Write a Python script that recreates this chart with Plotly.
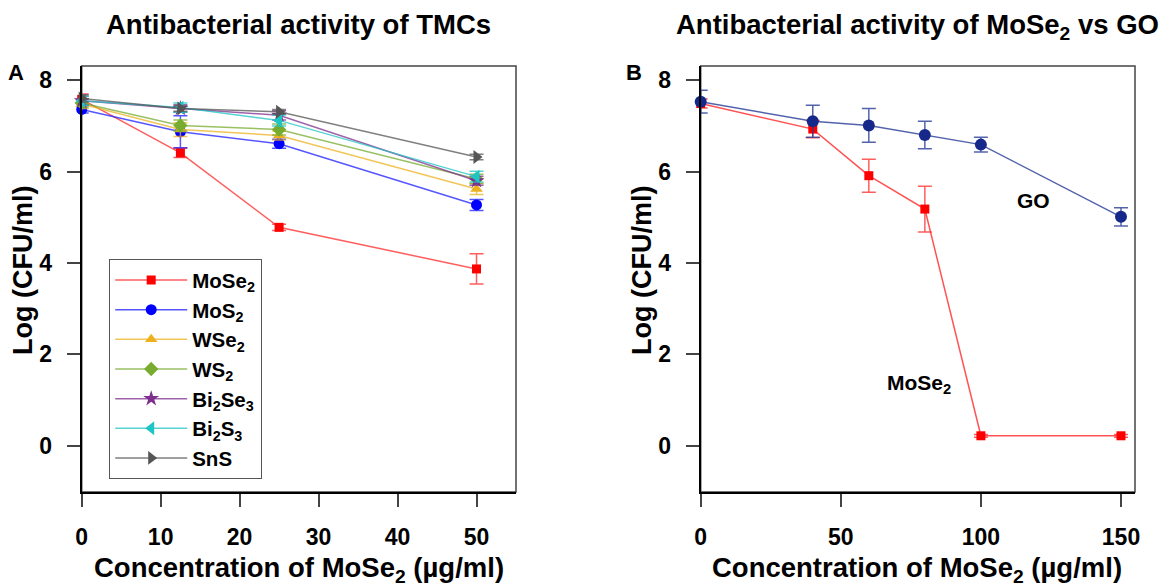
import plotly.graph_objects as go

W, H = 1160, 588

# ---------------- data: panel A (TMCs) ----------------
conc_a = [0, 12.5, 25, 50]
mose2_a = [7.58, 6.41, 4.78, 3.87]
mose2_a_err = [0.12, 0.10, 0.07, 0.33]
mos2_a = [7.36, 6.87, 6.61, 5.27]
mos2_a_err = [0.08, 0.35, 0.10, 0.12]
wse2_a = [7.48, 6.92, 6.79, 5.62]
wse2_a_err = [0.10, 0.15, 0.10, 0.12]
ws2_a = [7.50, 7.01, 6.92, 5.84]
ws2_a_err = [0.10, 0.12, 0.12, 0.10]
bi2se3_a = [7.55, 7.38, 7.23, 5.80]
bi2se3_a_err = [0.10, 0.08, 0.10, 0.10]
bi2s3_a = [7.55, 7.40, 7.12, 5.89]
bi2s3_a_err = [0.10, 0.10, 0.12, 0.12]
sns_a = [7.60, 7.38, 7.31, 6.32]
sns_a_err = [0.08, 0.06, 0.05, 0.06]

# ---------------- data: panel B (MoSe2 vs GO) ----------------
conc_b = [0, 40, 60, 80, 100, 150]
go_b = [7.53, 7.10, 7.01, 6.80, 6.59, 5.01]
go_b_err = [0.25, 0.35, 0.37, 0.30, 0.16, 0.20]
mose2_b = [7.49, 6.93, 5.91, 5.18, 0.22, 0.22]
mose2_b_err = [0.10, 0.19, 0.36, 0.50, 0.03, 0.03]

x_ticks_a = [0, 10, 20, 30, 40, 50]
x_ticks_b = [0, 50, 100, 150]
y_ticks = [0, 2, 4, 6, 8]

FONT = "Liberation Sans"


def px(x):
    return x / W


def py(y):
    return 1 - y / H


# plot-area placement in pixels
A_L, A_R = 81.7, 516
B_L, B_R = 700.7, 1135
P_T, P_B = 66, 492

fig = go.Figure()

series_a = [
    ("MoSe<sub>2</sub>", mose2_a, mose2_a_err, "#ff0000", "rgba(255,40,40,0.75)", "square", 9),
    ("MoS<sub>2</sub>", mos2_a, mos2_a_err, "#0000ff", "rgba(30,30,255,0.75)", "circle", 11),
    ("WSe<sub>2</sub>", wse2_a, wse2_a_err, "#edb120", "rgba(237,177,32,0.75)", "triangle-up", 11),
    ("WS<sub>2</sub>", ws2_a, ws2_a_err, "#77ac30", "rgba(119,172,48,0.75)", "diamond", 11),
    ("Bi<sub>2</sub>Se<sub>3</sub>", bi2se3_a, bi2se3_a_err, "#7e2f8e", "rgba(126,47,142,0.75)", "star", 12),
    ("Bi<sub>2</sub>S<sub>3</sub>", bi2s3_a, bi2s3_a_err, "#1fc4c4", "rgba(31,196,196,0.75)", "triangle-left", 12),
    ("SnS", sns_a, sns_a_err, "#555555", "rgba(85,85,85,0.75)", "triangle-right", 12),
]

for name, ys, errs, col, ecol, sym, size in series_a:
    fig.add_trace(go.Scatter(
        x=conc_a, y=ys, name=name, mode="lines+markers",
        line=dict(color=ecol, width=1.5),
        marker=dict(color=col, symbol=sym, size=size, line=dict(width=0)),
        error_y=dict(type="data", array=errs, visible=True, color=ecol,
                     thickness=1.5, width=7),
        cliponaxis=False, xaxis="x", yaxis="y",
    ))

fig.add_trace(go.Scatter(
    x=conc_b, y=mose2_b, name="MoSe2", mode="lines+markers", showlegend=False,
    line=dict(color="rgba(255,40,40,0.8)", width=1.5),
    marker=dict(color="#ff0000", symbol="square", size=9),
    error_y=dict(type="data", array=mose2_b_err, visible=True,
                 color="rgba(255,40,40,0.75)", thickness=1.5, width=7),
    cliponaxis=False, xaxis="x2", yaxis="y2",
))
fig.add_trace(go.Scatter(
    x=conc_b, y=go_b, name="GO", mode="lines+markers", showlegend=False,
    line=dict(color="rgba(40,60,150,0.8)", width=1.5),
    marker=dict(color="#16298a", symbol="circle", size=12),
    error_y=dict(type="data", array=go_b_err, visible=True,
                 color="rgba(40,60,150,0.8)", thickness=1.5, width=7),
    cliponaxis=False, xaxis="x2", yaxis="y2",
))

tickfont = dict(family=FONT, size=23, color="black", weight="bold")
common_x = dict(showgrid=False, zeroline=False, showline=True, linecolor="black",
                linewidth=2, ticks="outside", ticklen=13, tickwidth=1.5,
                tickcolor="#444444", tickfont=tickfont, ticklabelstandoff=10)
common_y = dict(showgrid=False, zeroline=False, showline=True, linecolor="black",
                linewidth=2, ticks="outside", ticklen=13, tickwidth=1.5,
                tickcolor="#444444", tickfont=tickfont, ticklabelstandoff=10,
                range=[-1.01, 8.31], tickvals=y_ticks)

fig.update_layout(
    width=W, height=H,
    margin=dict(l=0, r=0, t=0, b=0, autoexpand=False),
    paper_bgcolor="white", plot_bgcolor="white",
    xaxis=dict(domain=[px(A_L), px(A_R)], range=[0, 55], tickvals=x_ticks_a, **common_x),
    yaxis=dict(domain=[py(P_B), py(P_T)], anchor="x", **common_y),
    xaxis2=dict(domain=[px(B_L), px(B_R)], range=[0, 155], tickvals=x_ticks_b,
                anchor="y2", **common_x),
    yaxis2=dict(domain=[py(P_B), py(P_T)], anchor="x2", **common_y),
    legend=dict(x=px(109), y=py(259), xanchor="left", yanchor="top",
                bgcolor="white", bordercolor="#555555", borderwidth=1.2,
                font=dict(family=FONT, size=20.5, color="black", weight="bold"),
                itemwidth=72, tracegroupgap=0),
    showlegend=True,
)

# thin grey frame on the top/right sides of each panel
for xr, yr in (("x", "y"), ("x2", "y2")):
    fig.add_shape(type="rect", xref=f"{xr} domain", yref=f"{yr} domain",
                  x0=0, x1=1, y0=0, y1=1, line=dict(color="#444444", width=1.5),
                  layer="below")

bold = dict(family=FONT, color="black", weight="bold")
annotations = [
    dict(text="Antibacterial activity of TMCs", x=px(298), y=py(25), size=27.5),
    dict(text="Antibacterial activity of MoSe<sub>2</sub> vs GO", x=px(917), y=py(27), size=27.5),
    dict(text="A", x=px(16), y=py(72), size=22),
    dict(text="B", x=px(634), y=py(72), size=22),
    dict(text="Concentration of MoSe<sub>2</sub> (µg/ml)", x=px(298.5), y=py(569), size=27.5),
    dict(text="Concentration of MoSe<sub>2</sub> (µg/ml)", x=px(917), y=py(569), size=27.5),
]
for a in annotations:
    fig.add_annotation(text=a["text"], x=a["x"], y=a["y"], xref="paper", yref="paper",
                       showarrow=False, xanchor="center", yanchor="middle",
                       font=dict(size=a["size"], **bold))

for xc in (23, 642):
    fig.add_annotation(text="Log (CFU/ml)", x=px(xc), y=py(271), xref="paper", yref="paper",
                       showarrow=False, textangle=-90, xanchor="center", yanchor="middle",
                       font=dict(size=27, **bold))

# series labels inside panel B
fig.add_annotation(text="GO", x=118.7, y=5.37, xref="x2", yref="y2", showarrow=False,
                   font=dict(size=21, **bold))
fig.add_annotation(text="MoSe<sub>2</sub>", x=78, y=1.35, xref="x2", yref="y2", showarrow=False,
                   font=dict(size=21, **bold))

fig.write_html("out.html")
